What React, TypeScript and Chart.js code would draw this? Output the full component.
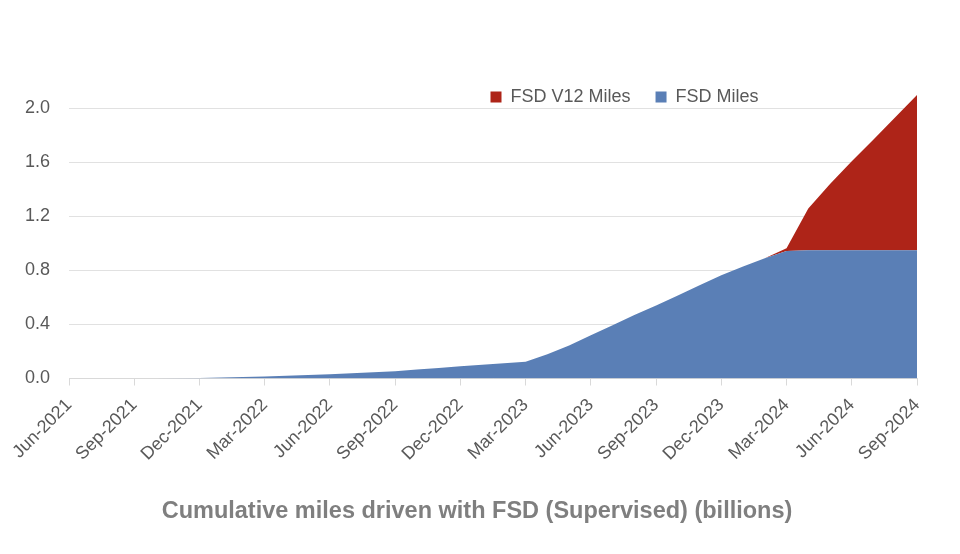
import React, { useEffect, useRef } from 'react';
import { Chart, registerables } from 'chart.js';

Chart.register(...registerables);

const months = [
  'Jun-2021', 'Jul-2021', 'Aug-2021', 'Sep-2021', 'Oct-2021', 'Nov-2021', 'Dec-2021',
  'Jan-2022', 'Feb-2022', 'Mar-2022', 'Apr-2022', 'May-2022', 'Jun-2022',
  'Jul-2022', 'Aug-2022', 'Sep-2022', 'Oct-2022', 'Nov-2022', 'Dec-2022',
  'Jan-2023', 'Feb-2023', 'Mar-2023', 'Apr-2023', 'May-2023', 'Jun-2023',
  'Jul-2023', 'Aug-2023', 'Sep-2023', 'Oct-2023', 'Nov-2023', 'Dec-2023',
  'Jan-2024', 'Feb-2024', 'Mar-2024', 'Apr-2024', 'May-2024', 'Jun-2024',
  'Jul-2024', 'Aug-2024', 'Sep-2024',
];

// Cumulative miles (billions), FSD before V12
const fsdMiles = [
  0, 0, 0, 0, 0, 0.001, 0.003,
  0.007, 0.011, 0.015, 0.02, 0.026, 0.032, 0.039, 0.046, 0.054, 0.066, 0.078, 0.09,
  0.101, 0.113, 0.125, 0.18, 0.245, 0.32, 0.395, 0.47, 0.54, 0.615, 0.69, 0.765,
  0.83, 0.89, 0.945, 0.95, 0.95, 0.95, 0.95, 0.95, 0.95,
];

// Cumulative FSD V12 miles (billions), stacked on top
const fsdV12Miles = [
  0, 0, 0, 0, 0, 0, 0,
  0, 0, 0, 0, 0, 0, 0, 0, 0, 0, 0, 0,
  0, 0, 0, 0, 0, 0, 0, 0, 0, 0, 0, 0,
  0, 0, 0.02, 0.31, 0.49, 0.66, 0.82, 0.985, 1.15,
];

const yTickValues = [0, 0.4, 0.8, 1.2, 1.6, 2.0];

const seriesNames = ['FSD Miles', 'FSD V12 Miles'];
const chartTitle = 'Cumulative miles driven with FSD (Supervised) (billions)';

const FONT = "'Liberation Sans', Arial, Helvetica, sans-serif";
const BLUE = '#5a7fb6';
const RED = '#ae2418';

export default function App() {
  const ref = useRef<HTMLCanvasElement>(null);

  useEffect(() => {
    if (!ref.current) return;
    Chart.defaults.font.family = FONT;

    const placer = {
      id: 'placer',
      beforeLayout(chart: any) {
        const lg = chart.legend;
        if (lg && !lg._patched) {
          const origFit = lg.fit;
          lg.fit = function () {
            origFit.call(this);
            this._realHeight = this.height;
            this.height = 0;
          };
          lg._patched = true;
        }
      },
      afterLayout(chart: any) {
        const lg = chart.legend;
        if (lg) {
          const pad = lg.options.labels.padding;
          const dx = 490.5 - pad - lg.left;
          lg.left += dx;
          lg.right += dx;
          lg.width = lg.right - lg.left;
          lg.top = 97 - pad - 9;
          lg.height = lg._realHeight || 80;
          lg.bottom = lg.top + lg.height;
        }
        const tb = chart.titleBlock;
        if (tb) {
          tb.left = 0;
          tb.right = 954;
          const h = tb.bottom - tb.top;
          tb.top = 497;
          tb.bottom = 497 + h;
        }
      },
    };

    const chart = new Chart(ref.current, {
      type: 'line',
      data: {
        labels: months,
        datasets: [
          {
            label: seriesNames[0],
            data: fsdMiles,
            backgroundColor: BLUE,
            borderColor: BLUE,
            borderWidth: 0,
            fill: 'origin',
            pointRadius: 0,
            tension: 0,
          },
          {
            label: seriesNames[1],
            data: fsdV12Miles,
            backgroundColor: RED,
            borderColor: RED,
            borderWidth: 0,
            fill: '-1',
            pointRadius: 0,
            tension: 0,
          },
        ],
      },
      options: {
        responsive: false,
        animation: false,
        devicePixelRatio: 1,
        events: [],
        layout: { padding: { top: 81.5, right: 43, bottom: 37.3, left: 0 } },
        scales: {
          x: {
            type: 'category',
            offset: false,
            afterFit: (s: any) => { s.height = 110; },
            border: { display: true, color: '#d9d9d9', width: 1 },
            grid: {
              display: true,
              drawOnChartArea: false,
              drawTicks: true,
              tickLength: 7,
              color: (ctx: any) => (ctx.index % 3 === 0 ? '#d9d9d9' : 'rgba(0,0,0,0)'),
            },
            ticks: {
              autoSkip: false,
              maxRotation: 45,
              minRotation: 45,
              color: '#595959',
              font: { size: 18, family: FONT },
              padding: 9,
              callback: (_v: any, i: number) => (i % 3 === 0 ? months[i] : ''),
            },
          },
          y: {
            type: 'linear',
            stacked: true,
            min: 0,
            max: 2.2,
            afterFit: (s: any) => { s.width = 69; },
            afterBuildTicks: (s: any) => {
              s.ticks = yTickValues.map((v) => ({ value: v }));
            },
            border: { display: false },
            grid: { color: '#e1e1e1', lineWidth: 1, drawTicks: false },
            ticks: {
              stepSize: 0.4,
              includeBounds: false,
              padding: 19,
              color: '#595959',
              font: { size: 18, family: FONT },
              callback: (v: any) => Number(v).toFixed(1),
            },
          },
        },
        plugins: {
          legend: {
            position: 'top',
            align: 'start',
            reverse: true,
            labels: {
              boxWidth: 11,
              boxHeight: 11,
              padding: 25,
              color: '#595959',
              font: { size: 18, family: FONT },
            },
          },
          title: {
            display: true,
            position: 'bottom',
            text: chartTitle,
            color: '#7f7f7f',
            font: { size: 23.5, weight: 'bold', family: FONT, lineHeight: 1.2 },
            padding: { top: 0, bottom: 0 },
          },
          tooltip: { enabled: false },
        },
      } as any,
      plugins: [placer],
    });

    return () => chart.destroy();
  }, []);

  return (
    <canvas
      ref={ref}
      width={960}
      height={554}
      style={{ position: 'absolute', left: 0, top: 0, width: 960, height: 554, display: 'block' }}
    />
  );
}
